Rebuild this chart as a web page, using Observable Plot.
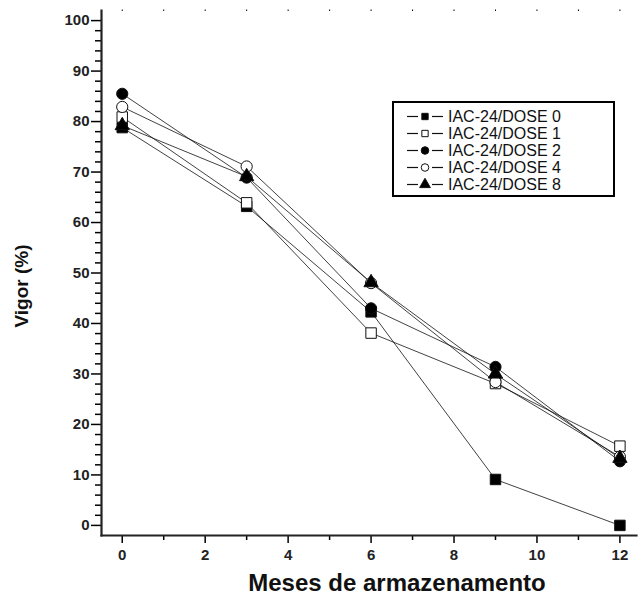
<!DOCTYPE html>
<html><head><meta charset="utf-8">
<script src="https://cdn.jsdelivr.net/npm/d3@7"></script>
<script src="https://cdn.jsdelivr.net/npm/@observablehq/plot@0.6"></script>
<style>
body{margin:0;background:#fff;}
#wrap{position:relative;width:639px;height:597px;font-family:"Liberation Sans",Arial,Helvetica,sans-serif;}
#legend{position:absolute;left:392px;top:101px;width:219px;height:92px;border:2px solid #000;background:#fff;box-sizing:content-box;}
.row{position:absolute;left:12px;height:17px;display:flex;align-items:center;font-size:16px;color:#111;white-space:nowrap;}
.row svg{margin-right:4px;}
</style></head><body><div id="wrap"></div>
<script>
const months = [0, 3, 6, 9, 12];
const seriesNames = ["IAC-24/DOSE 0", "IAC-24/DOSE 1", "IAC-24/DOSE 2", "IAC-24/DOSE 4", "IAC-24/DOSE 8"];
const dose0 = [78.8, 63.2, 42.3, 9.1, 0];
const dose1 = [80.9, 63.9, 38.1, 28.1, 15.7];
const dose2 = [85.5, 68.9, 43.0, 31.4, 12.7];
const dose4 = [82.9, 71.1, 48.0, 28.4, 13.6];
const dose8 = [79.2, 69.1, 48.1, 30.0, 13.3];
const seriesSymbols = ["square", "square", "circle", "circle", "triangle"];
const seriesFills = ["#000", "#fff", "#000", "#fff", "#000"];
const seriesR = [5.9, 5.9, 5.6, 5.6, 5.3];
const yMajorTicks = [0, 10, 20, 30, 40, 50, 60, 70, 80, 90, 100];
const yMinorTicks = [2,4,6,8,12,14,16,18,22,24,26,28,32,34,36,38,42,44,46,48,52,54,56,58,62,64,66,68,72,74,76,78,82,84,86,88,92,94,96,98];
const xMajorTicks = [0, 2, 4, 6, 8, 10, 12];
const xMinorTicks = [1, 3, 5, 7, 9, 11];
const xTopTicks = [0, 1, 2, 3, 4, 5, 6, 7, 8, 9, 10, 11, 12];
const xLabel = "Meses de armazenamento";
const yLabel = "Vigor (%)";

const values = [dose0, dose1, dose2, dose4, dose8];
const data = seriesNames.flatMap((s, i) => months.map((m, j) => ({series: s, month: m, vigor: values[i][j]})));

const tickFont = {fontSize: 15, fontWeight: "bold", fill: "#222"};
const marks = [
  Plot.axisY(yMinorTicks, {tickSize: 6, text: null, label: null, strokeWidth: 1.5}),
  Plot.axisY(yMajorTicks, {tickSize: 10, text: null, label: null, strokeWidth: 1.5}),
  Plot.axisX(xMinorTicks, {tickSize: 5, text: null, label: null, strokeWidth: 1.5}),
  Plot.axisX(xMajorTicks, {tickSize: 8, text: null, label: null, strokeWidth: 1.5}),
  Plot.axisX(xTopTicks, {anchor: "top", tickSize: 1.5, text: null, label: null, strokeWidth: 1}),
  Plot.text(yMajorTicks, {y: d => d, text: d => String(d), frameAnchor: "left", dx: -12, textAnchor: "end", lineAnchor: "middle", ...tickFont}),
  Plot.text(xMajorTicks, {x: d => d, text: d => String(d), frameAnchor: "bottom", dy: 20, textAnchor: "middle", lineAnchor: "middle", ...tickFont}),
  Plot.frame({anchor: "left", strokeWidth: 2.2, stroke: "#222"}),
  Plot.frame({anchor: "bottom", strokeWidth: 2.2, stroke: "#222"}),
  Plot.line(data, {x: "month", y: "vigor", z: "series", stroke: "#111", strokeWidth: 0.8}),
  ...seriesNames.map((s, i) => Plot.dot(data.filter(d => d.series === s), {
    x: "month", y: "vigor", symbol: () => seriesSymbols[i], fill: seriesFills[i], stroke: "#111", strokeWidth: 1, r: seriesR[i]
  })),
  Plot.text([yLabel], {frameAnchor: "left", rotate: -90, dx: -80, dy: 13, fontSize: 19, fontWeight: "bold", textAnchor: "middle", fill: "#111"}),
  Plot.text([xLabel], {frameAnchor: "bottom", dx: 28, dy: 48, fontSize: 24, fontWeight: "bold", textAnchor: "middle", lineAnchor: "middle", fill: "#111"})
];

const chart = Plot.plot({
  width: 639, height: 597,
  marginLeft: 101, marginRight: 3, marginTop: 10, marginBottom: 62,
  style: {fontFamily: '"Liberation Sans", Arial, Helvetica, sans-serif', background: "#fff", overflow: "visible"},
  x: {domain: [-0.5, 12.4]},
  y: {domain: [-2, 102]},
  symbol: {type: "identity"},
  marks
});
const wrap = document.getElementById("wrap");
wrap.appendChild(chart);

// Legend
const legend = document.createElement("div");
legend.id = "legend";
wrap.appendChild(legend);
const symMap = {square: d3.symbolSquare, circle: d3.symbolCircle, triangle: d3.symbolTriangle};
seriesNames.forEach((s, i) => {
  const row = document.createElement("div");
  row.className = "row";
  row.style.top = (5 + i * 17) + "px";
  const svg = d3.create("svg").attr("width", 38).attr("height", 17);
  svg.append("line").attr("x1", 1).attr("x2", 12).attr("y1", 8.5).attr("y2", 8.5).attr("stroke", "#111").attr("stroke-width", 1.2);
  svg.append("line").attr("x1", 26).attr("x2", 37).attr("y1", 8.5).attr("y2", 8.5).attr("stroke", "#111").attr("stroke-width", 1.2);
  const size = seriesSymbols[i] === "triangle" ? 50 : seriesSymbols[i] === "circle" ? 45 : 40;
  svg.append("path").attr("d", d3.symbol(symMap[seriesSymbols[i]], size)()).attr("transform", "translate(19,8.5)")
    .attr("fill", seriesFills[i]).attr("stroke", "#111").attr("stroke-width", 1);
  row.appendChild(svg.node());
  const t = document.createElement("span");
  t.textContent = s;
  row.appendChild(t);
  legend.appendChild(row);
});
</script></body></html>
